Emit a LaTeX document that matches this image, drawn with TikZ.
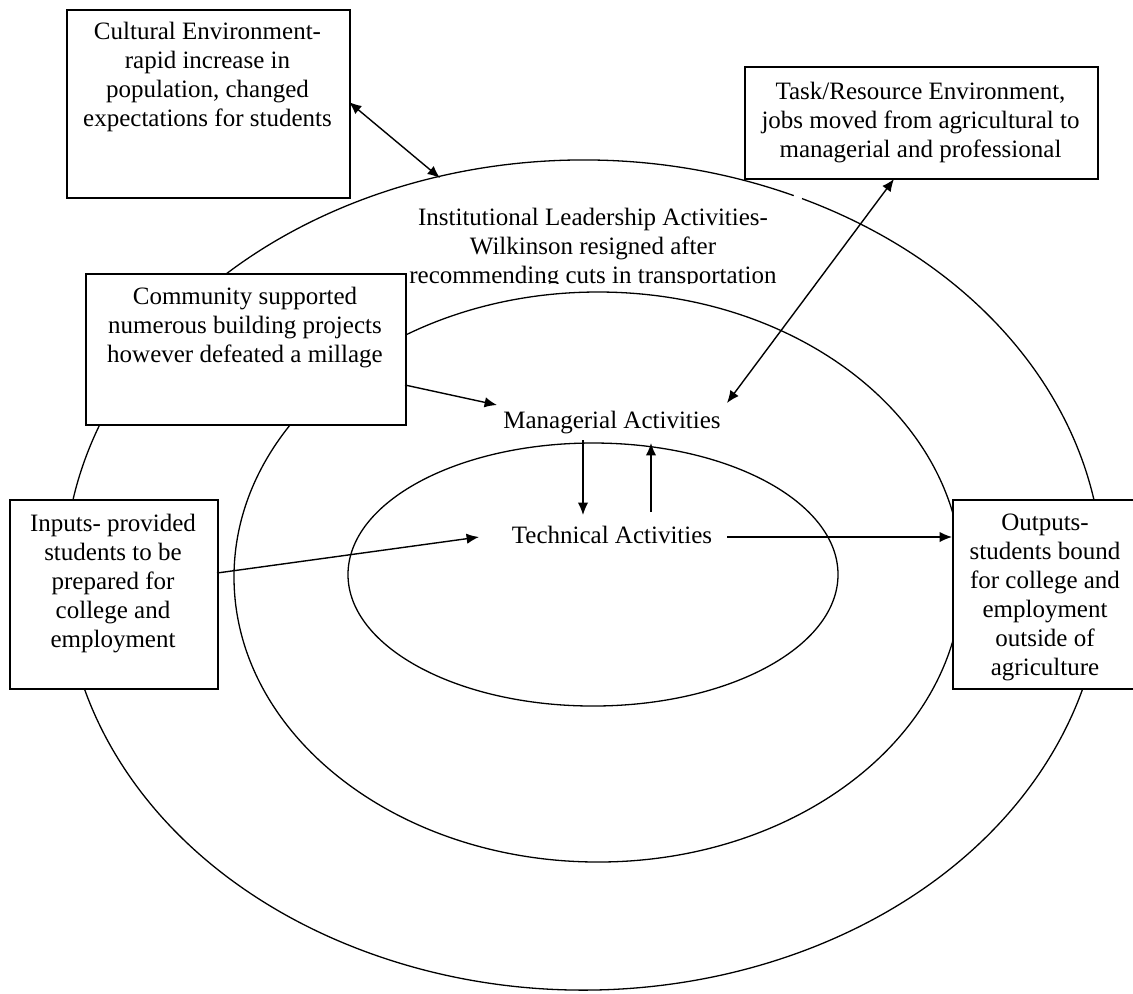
\documentclass[tikz,border=0pt]{standalone}
\usepackage{fontspec}
\setmainfont{Liberation Serif}
\usetikzlibrary{arrows.meta}
\begin{document}
\begin{tikzpicture}[x=0.5pt,y=-0.5pt,
  ring/.style={draw, line width=0.65pt},
  panel/.style={draw, fill=white, line width=0.9pt, anchor=north west, inner sep=0pt},
  txt/.style={align=center, inner sep=0pt, anchor=north, font=\fontsize{12.5}{14.5}\selectfont},
  word/.style={inner sep=0pt, anchor=base, font=\fontsize{12.5}{14.5}\selectfont},
  link/.style={line width=0.7pt, -{Latex[length=6.2pt,width=5.2pt]}},
  twoway/.style={line width=0.7pt, {Latex[length=6.2pt,width=5.2pt]}-{Latex[length=6.2pt,width=5.2pt]}}]

% page frame
\useasboundingbox (0,0) rectangle (1133,993);

% the three nested rings (outer ring has a small break near the top right)
\draw[ring] (583.5,575) ++(-65.1:519 and 415) arc[start angle=-65.1, end angle=293.9, x radius=519, y radius=415];
\draw[ring] (598,577) ellipse[x radius=364, y radius=285];
\draw[ring] (593,574.5) ellipse[x radius=245, y radius=131.5];

% environment and boundary boxes
\node[panel, minimum width=141.5pt, minimum height=94pt] (cult) at (66,9) {};
\node[txt] (cultT) at (207.5,22) {Cultural Environment-\\rapid increase in\\population, changed\\expectations for students};

\node[panel, minimum width=176.5pt, minimum height=56pt] (task) at (744,66) {};
\node[txt] (taskT) at (920.5,82) {Task/Resource Environment,\\jobs moved from agricultural to\\managerial and professional};

\node[panel, minimum width=160pt, minimum height=75.5pt] (comm) at (85,273) {};
\node[txt] (commT) at (245,287) {Community supported\\numerous building projects\\however defeated a millage};

\node[panel, minimum width=104pt, minimum height=94.5pt] (inp) at (9,499) {};
\node[txt] (inpT) at (113,514) {Inputs- provided\\students to be\\prepared for\\college and\\employment};

\node[panel, minimum width=93pt, minimum height=94.5pt] (outp) at (952,499) {};
\node[txt] (outpT) at (1045,514) {Outputs-\\students bound\\for college and\\employment\\outside of\\agriculture};

% ring labels
\begin{scope}
  \clip (380,190) rectangle (810,283);
  \node[txt] (inst) at (593,208) {Institutional Leadership Activities-\\Wilkinson resigned after\\recommending cuts in transportation};
\end{scope}
\node[word] (mgr) at (612,428) {Managerial Activities};
\node[word] (tech) at (612,543) {Technical Activities};

% connector end points
\coordinate (cultR) at (349,102);
\coordinate (instL) at (440,178);
\coordinate (taskB) at (894,179);
\coordinate (mgrR) at (727,403);
\coordinate (commR) at (405,385);
\coordinate (mgrL) at (497,405);
\coordinate (inpR) at (217,573);
\coordinate (techL) at (479,537);
\coordinate (techR) at (727,537);
\coordinate (outpL) at (952,537);
\coordinate (mgrD) at (583,440);
\coordinate (techU) at (583,515);
\coordinate (techD) at (651,512);
\coordinate (mgrU) at (651,443);

% connectors
\draw[twoway] (cultR) -- (instL);
\draw[twoway] (taskB) -- (mgrR);
\draw[link] (commR) -- (mgrL);
\draw[link] (inpR) -- (techL);
\draw[link] (techR) -- (outpL);
\draw[link] (mgrD) -- (techU);
\draw[link] (techD) -- (mgrU);
\end{tikzpicture}
\end{document}
